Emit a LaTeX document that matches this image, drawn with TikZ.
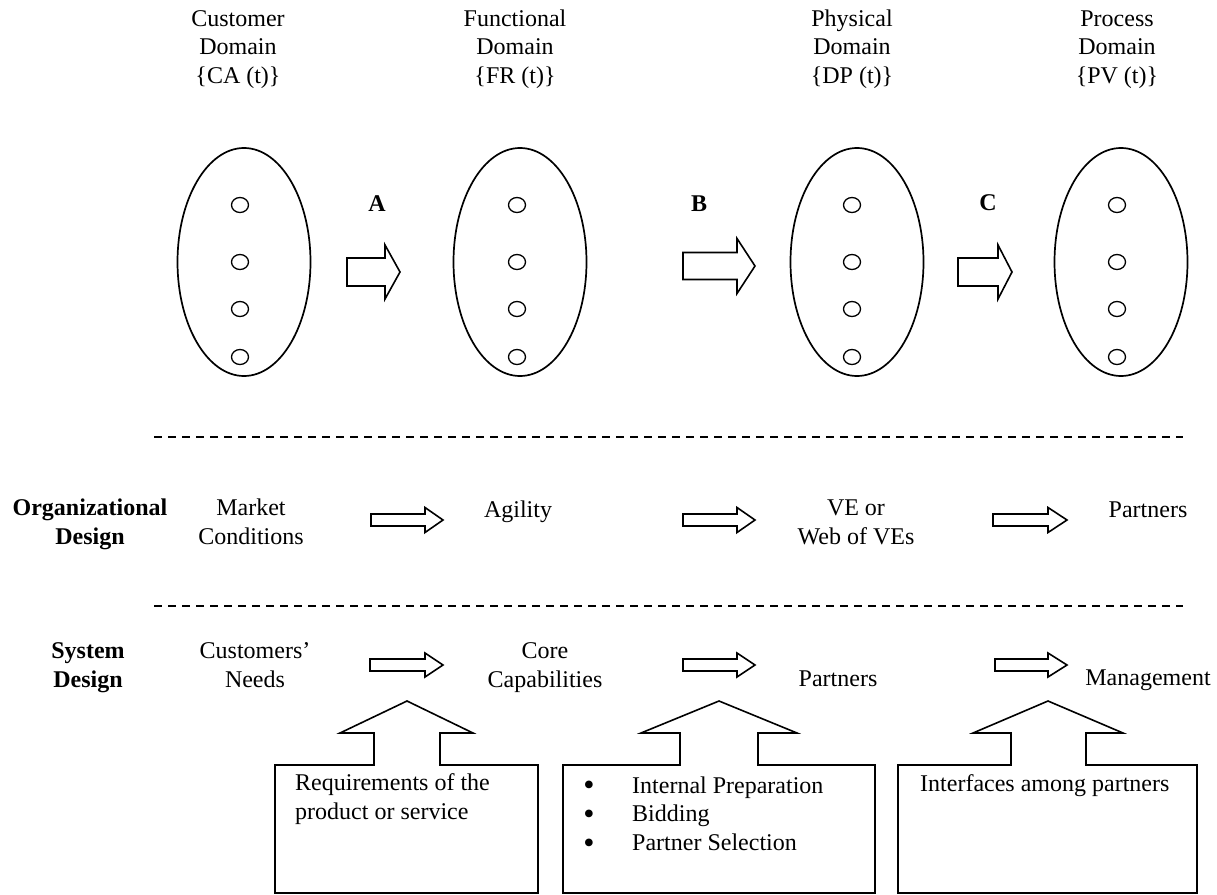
\documentclass[tikz,border=0pt]{standalone}
\usepackage{fontspec}
\setmainfont{Liberation Serif}
\usetikzlibrary{shapes.geometric}
% block arrow: #1 body start x, #2 body end x, #3 tip x, #4 centre y, #5 body half height, #6 head half height
\newcommand\blockarr[6]{%
  \draw[outline] (#1,#4-#5) -- (#2,#4-#5) -- (#2,#4-#6) -- (#3,#4) -- (#2,#4+#6)
    -- (#2,#4+#5) -- (#1,#4+#5) -- cycle;}
% callout box: #1 left, #2 right, #3 stem left, #4 stem right, #5 head left, #6 head right, #7 tip x
\newcommand\calloutbox[7]{%
  \draw[outline] (#1,893) -- (#1,765) -- (#3,765) -- (#3,733) -- (#5,733) -- (#7,701)
    -- (#6,733) -- (#4,733) -- (#4,765) -- (#2,765) -- (#2,893) -- cycle;}
\begin{document}
\begin{tikzpicture}[x=1pt,y=-1pt,
  lbl/.style={font=\fontsize{24}{28.5}\selectfont, align=center, inner sep=0pt, anchor=base},
  boldlbl/.style={lbl, font=\fontsize{24}{28.5}\selectfont\bfseries},
  boxtext/.style={font=\fontsize{24}{28.5}\selectfont, align=left, inner sep=0pt, anchor=base west},
  bulletmark/.style={font=\fontsize{32}{32}\selectfont, inner sep=0pt, anchor=base},
  outline/.style={draw=black, line width=1.6pt, line join=miter},
  domainshape/.style={ellipse, draw=black, line width=1.7pt, minimum width=133pt, minimum height=228pt, inner sep=0pt},
  elem/.style={ellipse, draw=black, line width=1.3pt, minimum width=17pt, minimum height=15pt, inner sep=0pt},
  sep/.style={draw=black, line width=1.6pt, dash pattern=on 8pt off 6pt}]
\useasboundingbox (0,0) rectangle (1217,894);

% domain headers (anchored at the baseline of their last line)
\node[lbl] (hcust) at (238,83) {Customer\\Domain\\\{CA (t)\}};
\node[lbl] (hfunc) at (515,83) {Functional\\Domain\\\{FR (t)\}};
\node[lbl] (hphys) at (852,83) {Physical\\Domain\\\{DP (t)\}};
\node[lbl] (hproc) at (1117,83) {Process\\Domain\\\{PV (t)\}};

% domains with their elements
\foreach \n/\cx/\ex in {1/244/240, 2/520/517, 3/857/852, 4/1121/1117} {
  \node[domainshape] (dom\n) at (\cx,262) {};
  \foreach \k/\cy in {1/205, 2/262, 3/309, 4/357}
    \node[elem] (dom\n-\k) at (\ex,\cy) {};
}

% mappings between domains
\node[boldlbl] (mapA) at (377,211) {A};
\node[boldlbl] (mapB) at (699,211) {B};
\node[boldlbl] (mapC) at (988,210) {C};
\blockarr{347}{385}{400}{272}{14}{27}
\blockarr{683}{737}{755}{266}{13.5}{27.5}
\blockarr{958}{998}{1012}{272}{14}{27}

% separators
\draw[sep] (154,437) -- (1183,437);
\draw[sep] (154,606) -- (1183,606);

% organizational design row
\node[boldlbl] (org) at (90,544) {Organizational\\Design};
\node[lbl] (market) at (251,544) {Market\\Conditions};
\node[lbl] (agility) at (518,517) {Agility};
\node[lbl] (ve) at (856,544) {VE or\\Web of VEs};
\node[lbl] (opart) at (1148,517) {Partners};
\blockarr{371}{425}{443}{520}{6}{12.5}
\blockarr{683}{737}{755}{520}{6}{12.5}
\blockarr{993}{1048}{1067}{520}{6}{12.5}

% system design row
\node[boldlbl] (sys) at (88,687) {System\\Design};
\node[lbl] (needs) at (255,687) {Customers'\\Needs};
\node[lbl] (core) at (545,687) {Core\\Capabilities};
\node[lbl] (spart) at (838,686) {Partners};
\node[lbl] (mgmt) at (1148,685) {Management};
\blockarr{370}{425}{443}{665}{6}{12}
\blockarr{683}{737}{755}{665}{6}{12}
\blockarr{995}{1048}{1067}{665}{6}{12}

% input boxes
\calloutbox{275}{538}{374}{440}{340}{473}{407}
\calloutbox{563}{875}{680}{758}{641}{797}{719}
\calloutbox{898}{1197}{1011}{1086}{973}{1123}{1048}

\node[boxtext] (req) at (295,819) {Requirements of the\\product or service};
\node[bulletmark] (b1) at (589,795) {\textbullet};
\node[bulletmark] (b2) at (589,824) {\textbullet};
\node[bulletmark] (b3) at (589,853) {\textbullet};
\node[boxtext] (steps) at (632,850) {Internal Preparation\\Bidding\\Partner Selection};
\node[boxtext] (iface) at (920,791) {Interfaces among partners};
\end{tikzpicture}
\end{document}
